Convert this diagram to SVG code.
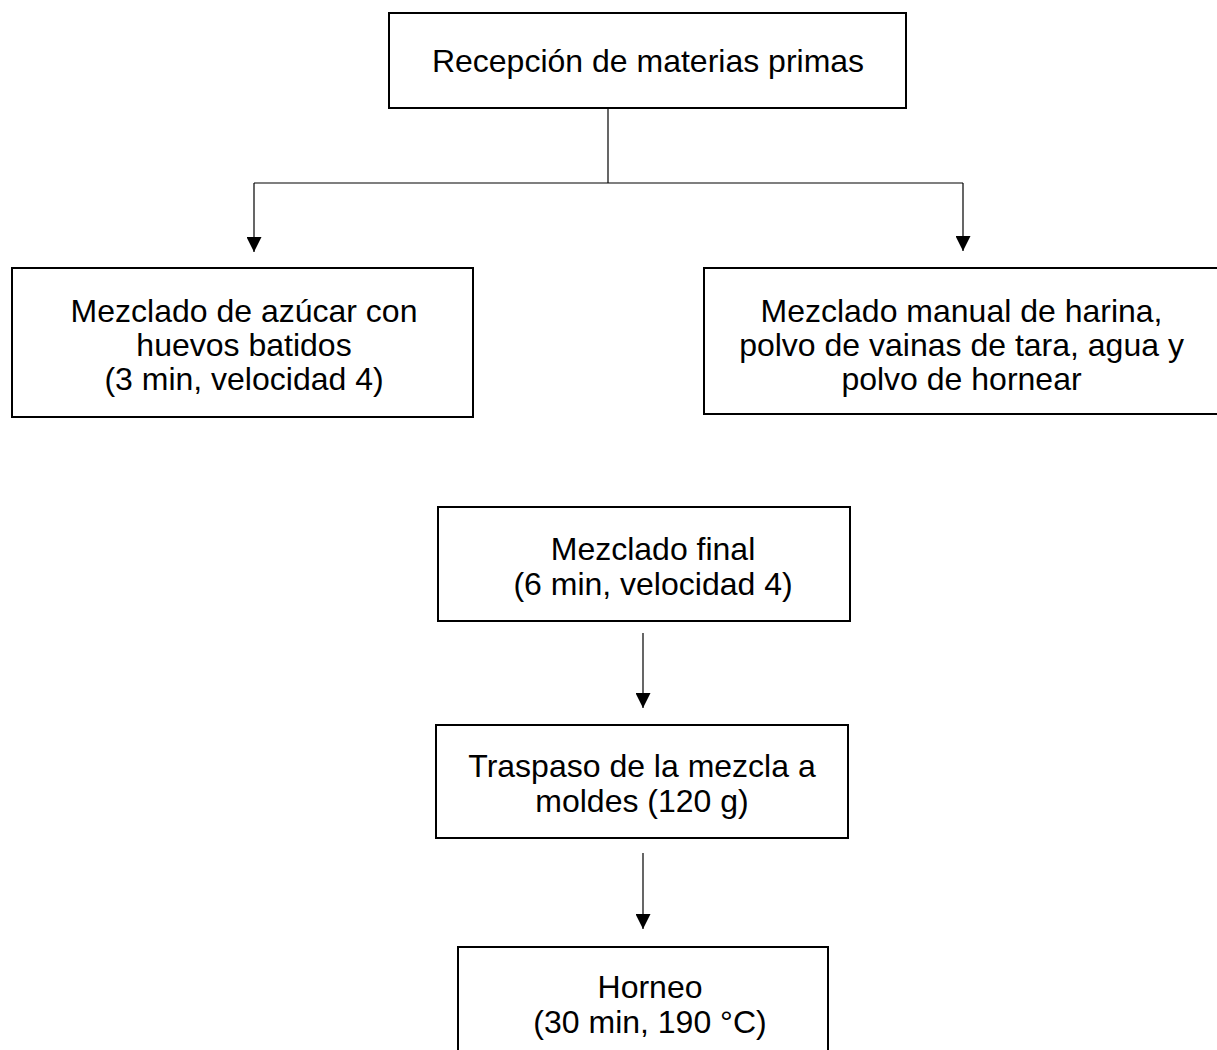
<svg xmlns="http://www.w3.org/2000/svg" width="1217" height="1050" viewBox="0 0 1217 1050">
<style>
.box{fill:#fff;stroke:#000;stroke-width:2}
.t{font-family:"Liberation Sans",Arial,sans-serif;font-size:32px;fill:#000;text-anchor:middle}
.c{fill:none;stroke:#000;stroke-width:1.2}
</style>
<defs>
<marker id="arr" markerWidth="15" markerHeight="15" refX="15" refY="7.5" orient="auto" markerUnits="userSpaceOnUse">
<path d="M0,0 L15,7.5 L0,15 z" fill="#000"/>
</marker>
</defs>
<rect width="1217" height="1050" fill="#fff"/>
<g id="connectors">
<line class="c" x1="608" y1="108" x2="608" y2="183"/>
<line class="c" x1="254" y1="183" x2="963" y2="183"/>
<line class="c" x1="254" y1="183" x2="254" y2="252" marker-end="url(#arr)"/>
<line class="c" x1="963" y1="183" x2="963" y2="251" marker-end="url(#arr)"/>
<line class="c" x1="643" y1="633" x2="643" y2="708" marker-end="url(#arr)"/>
<line class="c" x1="643" y1="853" x2="643" y2="929" marker-end="url(#arr)"/>
</g>
<g id="n1">
<rect class="box" x="389" y="13" width="517" height="95"/>
<text class="t" x="648" y="72">Recepción de materias primas</text>
</g>
<g id="n2">
<rect class="box" x="12" y="268" width="461" height="149"/>
<text class="t" x="244" y="322">Mezclado de azúcar con</text>
<text class="t" x="244" y="356">huevos batidos</text>
<text class="t" x="244" y="390">(3 min, velocidad 4)</text>
</g>
<g id="n3">
<rect class="box" x="704" y="268" width="515" height="146"/>
<text class="t" x="961.5" y="322">Mezclado manual de harina,</text>
<text class="t" x="961.5" y="356">polvo de vainas de tara, agua y</text>
<text class="t" x="961.5" y="390">polvo de hornear</text>
</g>
<g id="n4">
<rect class="box" x="438" y="507" width="412" height="114"/>
<text class="t" x="653" y="560">Mezclado final</text>
<text class="t" x="653" y="595">(6 min, velocidad 4)</text>
</g>
<g id="n5">
<rect class="box" x="436" y="725" width="412" height="113"/>
<text class="t" x="642" y="777">Traspaso de la mezcla a</text>
<text class="t" x="642" y="812">moldes (120 g)</text>
</g>
<g id="n6">
<rect class="box" x="458" y="947" width="370" height="120"/>
<text class="t" x="650" y="998">Horneo</text>
<text class="t" x="650" y="1033">(30 min, 190 °C)</text>
</g>
</svg>
